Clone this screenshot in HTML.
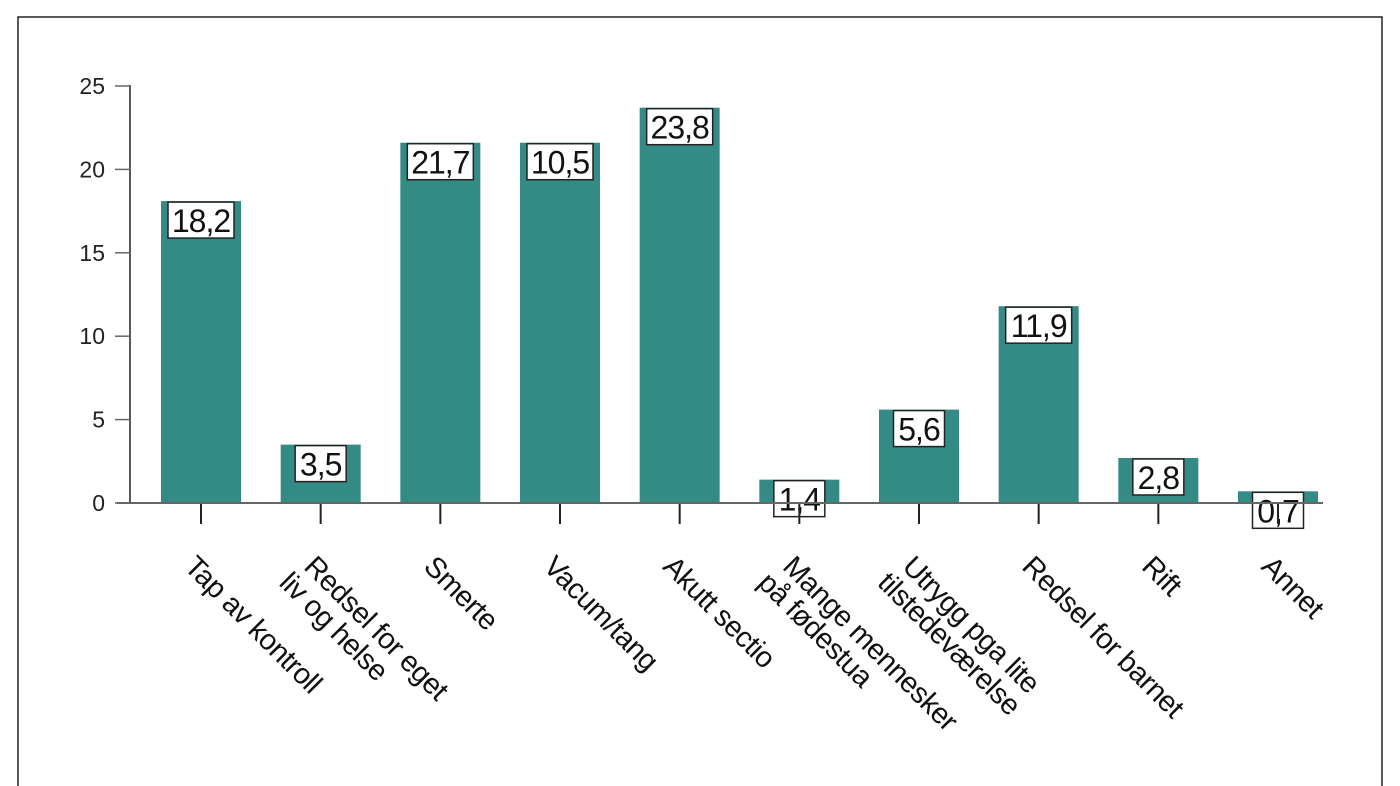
<!DOCTYPE html>
<html><head><meta charset="utf-8"><style>
html,body{margin:0;padding:0;background:#fff}
svg{display:block;font-family:"Liberation Sans",sans-serif}
</style></head><body>
<svg width="1400" height="786" viewBox="0 0 1400 786">
<rect x="18" y="17" width="1364" height="800" fill="none" stroke="#222" stroke-width="1.5"/>
<g id="plot"></g>
</svg>
<script>
const categories = [["Tap av kontroll"],["Redsel for eget","liv og helse"],["Smerte"],["Vacum/tang"],["Akutt sectio"],["Mange mennesker","på fødestua"],["Utrygg pga lite","tilstedeværelse"],["Redsel for barnet"],["Rift"],["Annet"]];
const barValues = [18.1,3.5,21.6,21.6,23.7,1.4,5.6,11.8,2.7,0.7];
const valueLabels = ["18,2","3,5","21,7","10,5","23,8","1,4","5,6","11,9","2,8","0,7"];
const yTicks = [0,5,10,15,20,25];

const NS="http://www.w3.org/2000/svg";
const g=document.getElementById('plot');
const y0=503, yTop=86, yMax=25;
const y=v=>y0-(y0-yTop)*v/yMax;
const x=i=>201+i*((1278-201)/(categories.length-1));
function el(t,a,p){const e=document.createElementNS(NS,t);for(const k in a)e.setAttribute(k,a[k]);(p||g).appendChild(e);return e;}

const ax=el('line',{x1:130,y1:85,x2:130,y2:503,stroke:'#222','stroke-width':1.5});


yTicks.forEach(t=>{
  const l=el('line',{x1:115,x2:130,y1:y(t),y2:y(t),stroke:'#666','stroke-width':1.5});
  
  
  const tx=el('text',{x:105,y:y(t)+8,'text-anchor':'end','font-size':23,fill:'#222'});
  tx.textContent=t;
  
  
});
barValues.forEach((v,i)=>{
  const cx=x(i);
  const b=el('rect',{x:cx-40,y:y(v),width:80,height:y0-y(v),fill:'#348b86'});
  
  
  const bw=valueLabels[i].length*15+6;
  const r=el('rect',{x:cx-bw/2,y:y(v)+1,width:bw,height:36,fill:'#fff',stroke:'#222','stroke-width':1.5});
  
  
  const tv=el('text',{x:cx,y:y(v)+31,'text-anchor':'middle','font-size':32,fill:'#111','letter-spacing':-1});
  tv.textContent=valueLabels[i];
  
  
  const tk=el('line',{x1:cx,x2:cx,y1:503,y2:524,stroke:'#222','stroke-width':2});
  
  
  const ct=el('text',{transform:`translate(${cx-18},${568}) rotate(45)`,'font-size':29,fill:'#111','letter-spacing':-0.5});
  
  
  categories[i].forEach((line,j)=>{
    const s=el('tspan',{x:j? -0:0,dy:j?'1.0em':0},ct);
    s.textContent=line;
    if(j){s.setAttribute('x',-6);}
  });
});
const xa=el('line',{x1:117,y1:503,x2:1323,y2:503,stroke:'#666','stroke-width':2});


</script>
</body></html>
